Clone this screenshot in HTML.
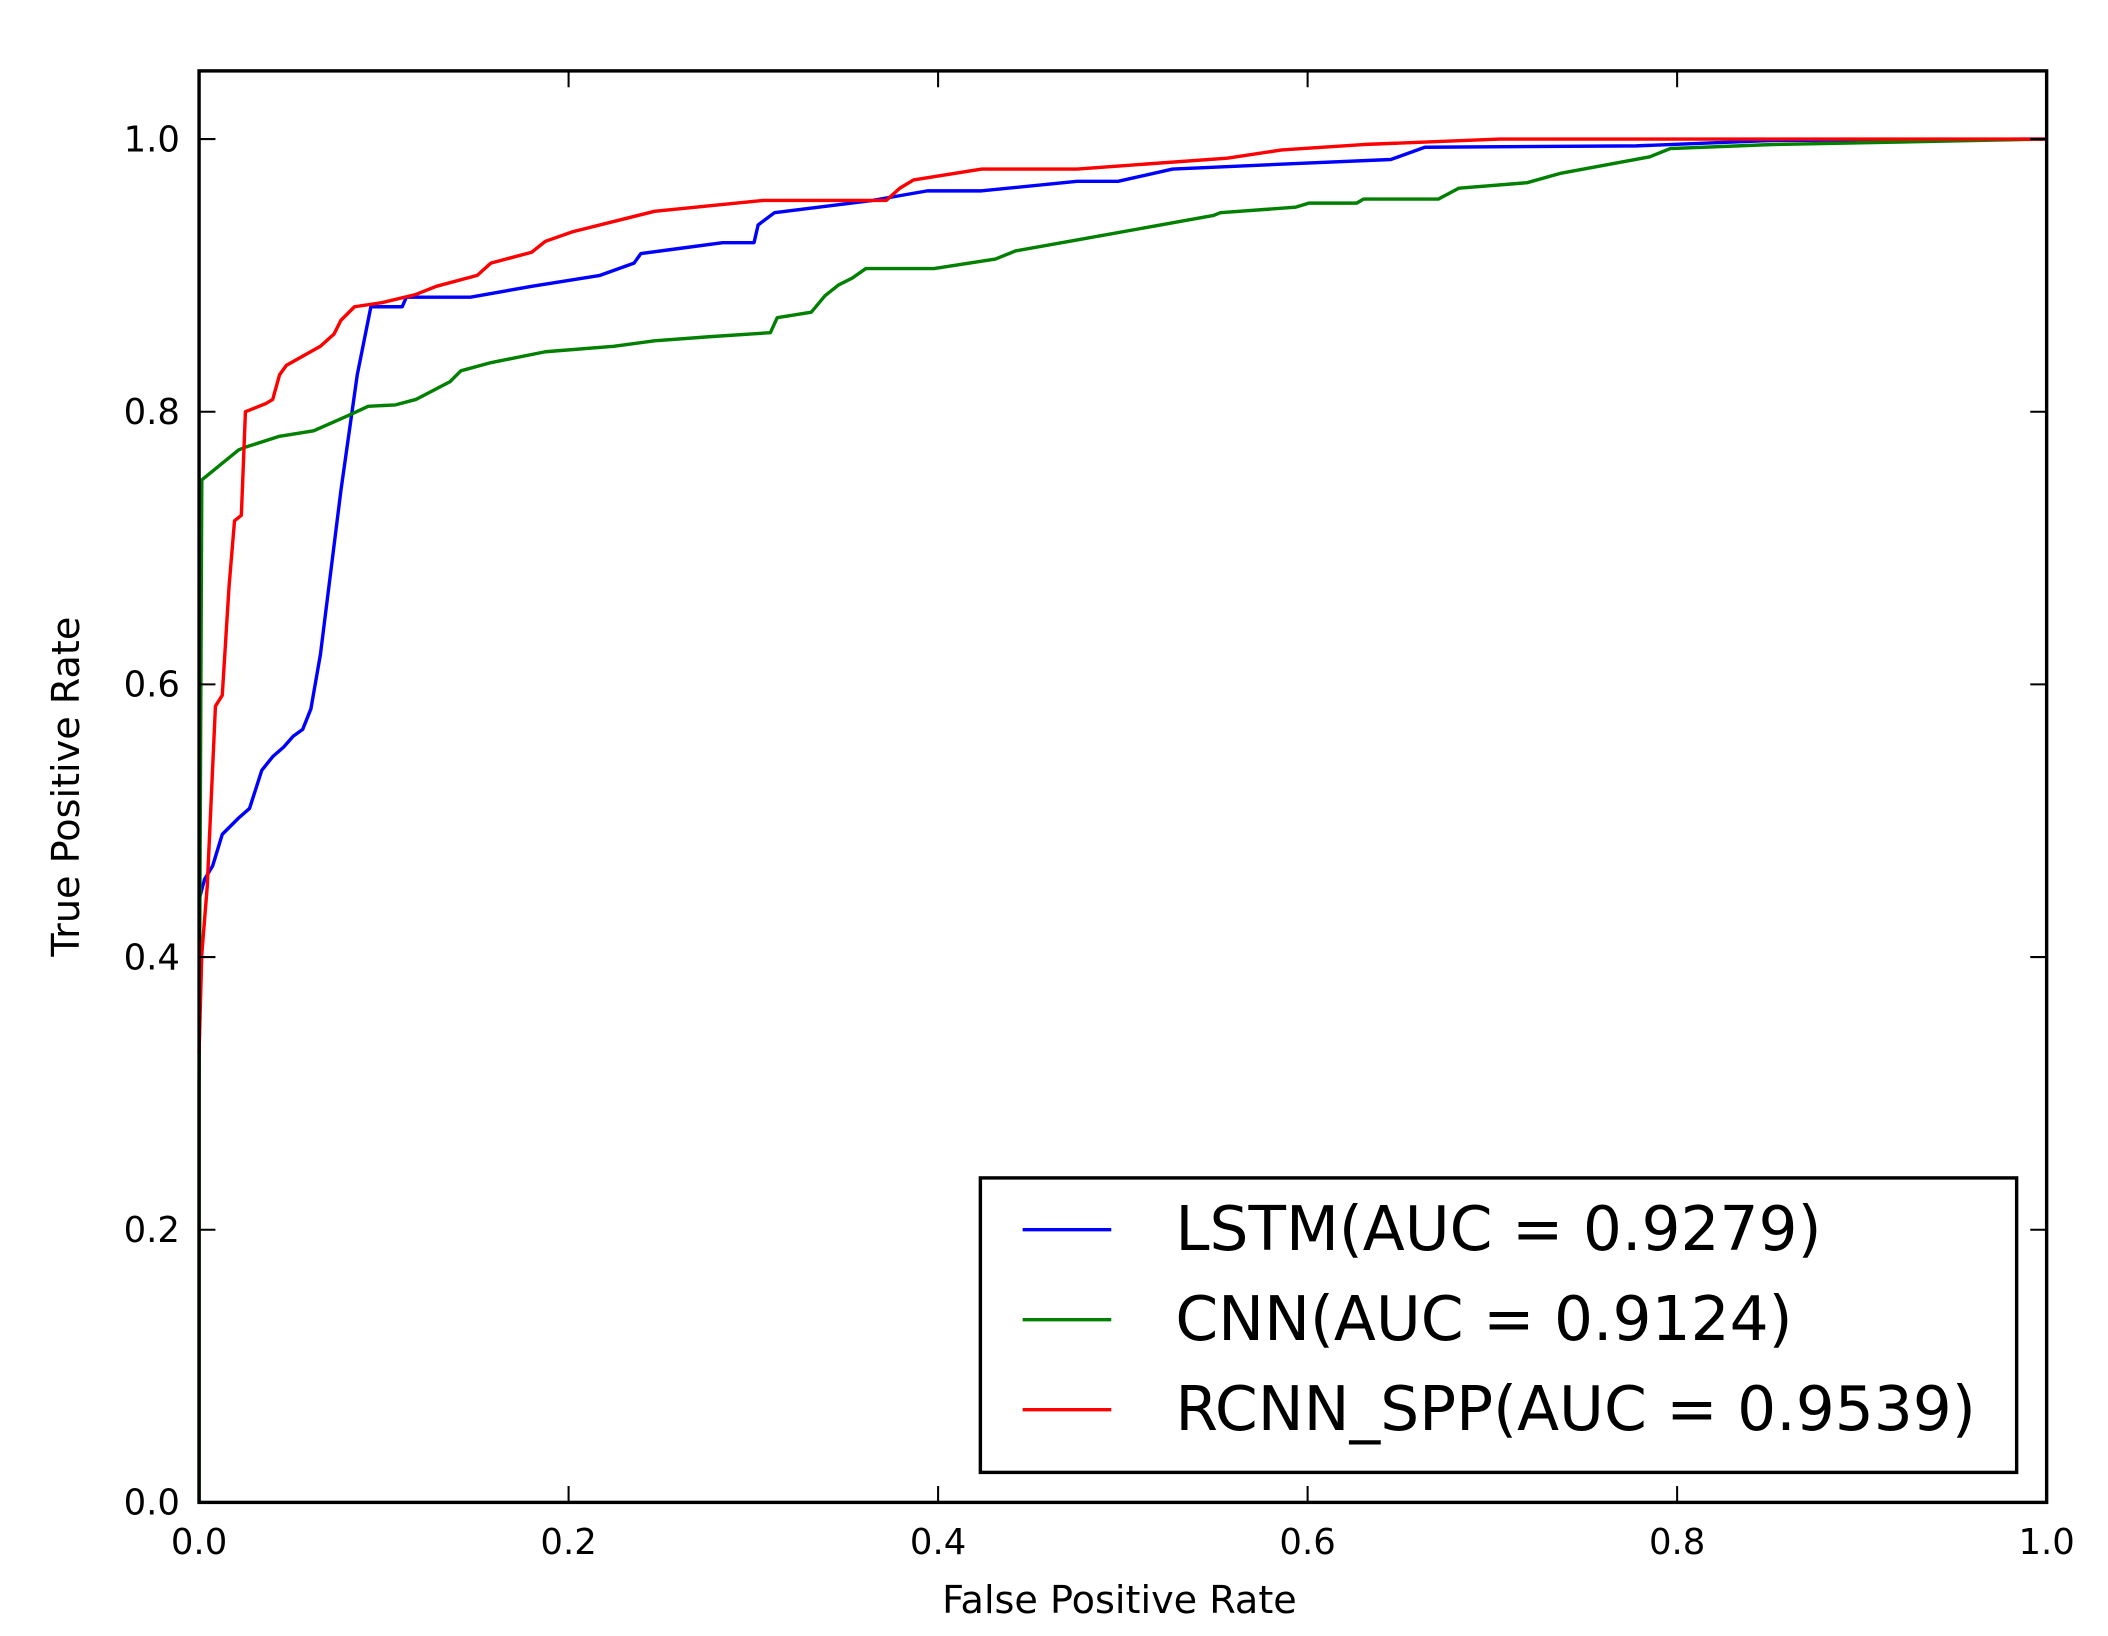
<!DOCTYPE html>
<html><head><style>html,body{margin:0;padding:0;background:#fff}svg{display:block}</style></head>
<body>
<svg width="2108" height="1636" viewBox="0 0 1546 1200" preserveAspectRatio="none" xmlns="http://www.w3.org/2000/svg" font-family="'DejaVu Sans','Liberation Sans',sans-serif">
<rect width="1546" height="1200" fill="#fff"/>
<g fill="none" stroke-width="2.5" stroke-linejoin="round">
<polyline stroke="#0000ff" points="146,660 150,645 156,635 163,612 175,600 183,593 192,565 200,555 208,548 215,540 222,535 228,520 235,480 250,360 262,275 272,225 295,225 298,218 345,218 390,210 440,202 465,193 470,186 500,182 530,178 553,178 556,165 568,156 640,147 680,140 720,140 790,133 820,133 860,124 950,120 1020,117 1045,108 1200,107 1300,103 1501,102"/>
<polyline stroke="#008000" points="146,1102 146,800 148,352 175,330 180,328 205,320 230,316 255,305 270,298 290,297 305,293 330,280 338,272 360,266 400,258 450,254 480,250 520,247 565,244 570,233 595,229 605,217 615,209 625,204 635,197 685,197 730,190 745,184 790,176 840,167 890,158 895,156 950,152 960,149 995,149 1000,146 1055,146 1070,138 1120,134 1145,127 1210,115 1225,109 1300,106 1501,102"/>
<polyline stroke="#ff0000" points="146,772 148,700 152,650 158,518 163,510 168,430 172,382 177,378 180,302 195,296 200,293 205,275 210,268 235,254 245,245 250,235 260,225 280,222 305,216 320,210 350,202 360,193 390,185 400,177 420,170 480,155 560,147 650,147 660,138 670,132 720,124 790,124 900,116 940,110 1000,106 1100,102 1501,102"/>
</g>
<rect x="146" y="52" width="1355" height="1050" fill="none" stroke="#000" stroke-width="2.5"/>
<g stroke="#000" stroke-width="1.5">
<line x1="417" y1="1102" x2="417" y2="1090"/><line x1="688" y1="1102" x2="688" y2="1090"/><line x1="959" y1="1102" x2="959" y2="1090"/><line x1="1230" y1="1102" x2="1230" y2="1090"/>
<line x1="417" y1="52" x2="417" y2="64"/><line x1="688" y1="52" x2="688" y2="64"/><line x1="959" y1="52" x2="959" y2="64"/><line x1="1230" y1="52" x2="1230" y2="64"/>
<line x1="146" y1="902" x2="158" y2="902"/><line x1="146" y1="702" x2="158" y2="702"/><line x1="146" y1="502" x2="158" y2="502"/><line x1="146" y1="302" x2="158" y2="302"/><line x1="146" y1="102" x2="158" y2="102"/>
<line x1="1501" y1="902" x2="1489" y2="902"/><line x1="1501" y1="702" x2="1489" y2="702"/><line x1="1501" y1="502" x2="1489" y2="502"/><line x1="1501" y1="302" x2="1489" y2="302"/><line x1="1501" y1="102" x2="1489" y2="102"/>
</g>
<g font-size="26" fill="#000">
<g text-anchor="middle">
<text x="146" y="1140">0.0</text><text x="417" y="1140">0.2</text><text x="688" y="1140">0.4</text><text x="959" y="1140">0.6</text><text x="1230" y="1140">0.8</text><text x="1501" y="1140">1.0</text>
</g>
<g text-anchor="end">
<text x="132" y="1111">0.0</text><text x="132" y="911">0.2</text><text x="132" y="711">0.4</text><text x="132" y="511">0.6</text><text x="132" y="311">0.8</text><text x="132" y="111">1.0</text>
</g>
<text x="821" y="1183" text-anchor="middle" font-size="28">False Positive Rate</text>
<text transform="translate(58,577) rotate(-90)" text-anchor="middle" font-size="28">True Positive Rate</text>
</g>
<rect x="719" y="864" width="760" height="216" fill="#fff" stroke="#000" stroke-width="2.5"/>
<line x1="750" y1="902" x2="815" y2="902" stroke="#0000ff" stroke-width="2.5"/>
<line x1="750" y1="968" x2="815" y2="968" stroke="#008000" stroke-width="2.5"/>
<line x1="750" y1="1034" x2="815" y2="1034" stroke="#ff0000" stroke-width="2.5"/>
<g font-size="45" fill="#000">
<text x="862" y="917">LSTM(AUC = 0.9279)</text>
<text x="862" y="983">CNN(AUC = 0.9124)</text>
<text x="862" y="1049">RCNN_SPP(AUC = 0.9539)</text>
</g>
</svg>
</body></html>
